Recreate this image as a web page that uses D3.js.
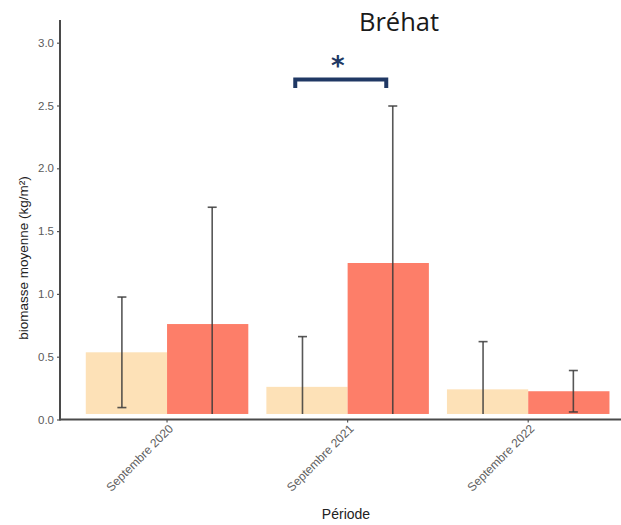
<!DOCTYPE html>
<html>
<head>
<meta charset="utf-8">
<script src="https://cdn.jsdelivr.net/npm/d3@7"></script>
<style>
  html, body { margin: 0; padding: 0; background: #fff; }
  svg { display: block; }
</style>
</head>
<body>
<svg id="chart" width="621" height="525"></svg>
<script>
// Mean biomass (kg/m²) per survey period, two groups, with standard deviations
const periods = ["Septembre 2020", "Septembre 2021", "Septembre 2022"];
const groups = ["A", "B"];
const meansA = [0.535, 0.26, 0.24];
const meansB = [0.76, 1.246, 0.225];
const sdA = [0.44, 0.40, 0.38];
const sdB = [0.93, 1.25, 0.165];
const yTicks = [0.0, 0.5, 1.0, 1.5, 2.0, 2.5, 3.0];
const panelFloor = 0.044;   // lower limit of the plotted panel
const groupColors = ["#FDE1B7", "#FD7E69"];
const titleText = "Bréhat";
const yTitle = "biomasse moyenne (kg/m²)";
const xTitle = "Période";

const rows = [];
periods.forEach((p, i) => {
  rows.push({ period: p, group: "A", mean: meansA[i], sd: sdA[i] });
  rows.push({ period: p, group: "B", mean: meansB[i], sd: sdB[i] });
});

const svg = d3.select("#chart");
const left = 60, right = 621, bottom = 419.5;

const x = d3.scaleBand().domain(periods).range([76.75, 618.5]).paddingInner(0.1).paddingOuter(0.05);
const step = x.step();
const bandW = step * 0.9;
const xInner = d3.scaleBand().domain(groups).range([0, bandW]);
const y = d3.scaleLinear().domain([0, 3]).range([bottom, bottom - 6 * 62.8]);

const center = p => x(p) + x.bandwidth() / 2;
const barX = d => center(d.period) - bandW / 2 + xInner(d.group);
const errX = d => center(d.period) + (d.group === "A" ? -1 : 1) * step / 4;

// bars
svg.append("g").selectAll("rect").data(rows).join("rect")
  .attr("x", barX)
  .attr("width", xInner.bandwidth())
  .attr("y", d => y(d.mean))
  .attr("height", d => y(panelFloor) - y(d.mean))
  .attr("fill", d => groupColors[groups.indexOf(d.group)]);

// error bars (mean ± sd, clipped at the panel floor)
const eb = svg.append("g").attr("stroke", "#3a3a3a").attr("stroke-width", 1.6).attr("stroke-opacity", 0.85);
rows.forEach(d => {
  const lo = Math.max(panelFloor, d.mean - d.sd), hi = d.mean + d.sd;
  const cx = errX(d);
  eb.append("line").attr("x1", cx).attr("x2", cx).attr("y1", y(lo)).attr("y2", y(hi));
  eb.append("line").attr("x1", cx - 4.5).attr("x2", cx + 4.5).attr("y1", y(hi)).attr("y2", y(hi));
  if (d.mean - d.sd > panelFloor) {
    eb.append("line").attr("x1", cx - 4.5).attr("x2", cx + 4.5).attr("y1", y(lo)).attr("y2", y(lo));
  }
});

// y axis
const yAxis = svg.append("g").attr("transform", `translate(${left},0)`)
  .call(d3.axisLeft(y).tickValues(yTicks).tickFormat(d3.format(".1f")).tickSize(3).tickPadding(3));
yAxis.select(".domain").remove();
yAxis.append("line").attr("x1", 0).attr("x2", 0).attr("y1", 20).attr("y2", bottom + 1)
  .attr("stroke", "#4a4a4a").attr("stroke-width", 2);
yAxis.selectAll(".tick line").attr("stroke", "#555").attr("stroke-width", 1.2);
yAxis.selectAll(".tick text").attr("fill", "#5a5a5a")
  .style("font-family", "'Liberation Sans', Arial, sans-serif").style("font-size", "11.5px");

// x axis
const xAxis = svg.append("g").attr("transform", `translate(0,${bottom})`)
  .call(d3.axisBottom(x).tickSize(3).tickPadding(4));
xAxis.select(".domain").remove();
xAxis.append("line").attr("x1", left).attr("x2", right).attr("y1", 0).attr("y2", 0)
  .attr("stroke", "#4a4a4a").attr("stroke-width", 2);
xAxis.selectAll(".tick line").attr("stroke", "#555").attr("stroke-width", 1.2);
xAxis.selectAll(".tick text")
  .attr("fill", "#606060")
  .style("font-family", "'Liberation Sans', Arial, sans-serif").style("font-size", "12px")
  .attr("text-anchor", "end")
  .attr("dy", "0.35em")
  .attr("transform", "translate(-1,2) rotate(-45)");

// axis titles
svg.append("text")
  .attr("transform", `translate(28,258) rotate(-90)`)
  .attr("text-anchor", "middle")
  .attr("fill", "#222")
  .style("font-family", "'Liberation Sans', Arial, sans-serif").style("font-size", "13.5px")
  .text(yTitle);

svg.append("text")
  .attr("x", 346).attr("y", 519)
  .attr("text-anchor", "middle")
  .attr("fill", "#222")
  .style("font-family", "'Liberation Sans', Arial, sans-serif").style("font-size", "14px")
  .text(xTitle);

// title
svg.append("text")
  .attr("x", 399).attr("y", 31)
  .attr("text-anchor", "middle")
  .attr("fill", "#1a1a1a")
  .style("font-family", "'Open Sans', 'Noto Sans', sans-serif").style("font-size", "25.5px")
  .text(titleText);

// significance bracket between the two 2021 bars
const b0 = center(periods[0]) + step * 0.71, b1 = b0 + 91;
svg.append("path")
  .attr("d", `M${b0},88 V79.5 H${b1} V88`)
  .attr("fill", "none").attr("stroke", "#203864").attr("stroke-width", 4);
svg.append("text")
  .attr("x", (b0 + b1) / 2 - 3).attr("y", 75)
  .attr("text-anchor", "middle")
  .attr("fill", "#203864")
  .style("font-family", "'DejaVu Sans', sans-serif").style("font-weight", "bold").style("font-size", "26px")
  .text("*");
</script>
</body>
</html>
